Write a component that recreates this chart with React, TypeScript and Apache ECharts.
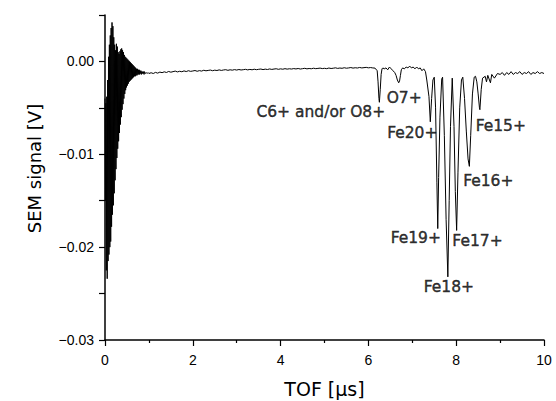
import React, { useEffect, useRef } from "react";
import * as echarts from "echarts";

// Ringing right after the trigger (TOF µs, SEM signal V)
const ringing: [number, number][] = [
  [0.00, -0.0040], [0.01, -0.0150], [0.02, -0.0045], [0.03, -0.0225], [0.04, -0.0038],
  [0.05, -0.0234], [0.06, -0.0020], [0.07, -0.0215], [0.08, 0.0005], [0.09, -0.0208],
  [0.10, 0.0018], [0.11, -0.0200], [0.12, 0.0028], [0.13, -0.0194], [0.14, 0.0036],
  [0.15, -0.0178], [0.16, 0.0042], [0.17, -0.0165], [0.18, 0.0038], [0.19, -0.0155],
  [0.20, 0.0026], [0.21, -0.0142], [0.22, 0.0018], [0.23, -0.0128], [0.24, 0.0012],
  [0.25, -0.0116], [0.26, 0.0019], [0.27, -0.0104], [0.28, 0.0016], [0.29, -0.0094],
  [0.30, 0.0010], [0.31, -0.0086], [0.32, 0.0008], [0.33, -0.0077], [0.34, 0.0011],
  [0.35, -0.0068], [0.36, 0.0013], [0.37, -0.0060], [0.38, 0.0014], [0.39, -0.0052],
  [0.40, 0.0012], [0.41, -0.0046], [0.42, 0.0010], [0.43, -0.0040], [0.44, 0.0007],
  [0.45, -0.0035], [0.46, 0.0005], [0.47, -0.0031], [0.48, 0.0004], [0.49, -0.0028],
  [0.50, 0.0003], [0.51, -0.0026], [0.52, 0.0002], [0.53, -0.0024], [0.54, 0.0001],
  [0.55, -0.0022], [0.56, 0.0000], [0.57, -0.0021], [0.58, -0.0001], [0.59, -0.0020],
  [0.60, -0.0002], [0.61, -0.0019], [0.62, -0.0003], [0.63, -0.0018], [0.64, -0.0004],
  [0.65, -0.0017], [0.66, -0.0005], [0.67, -0.0016], [0.68, -0.0006], [0.69, -0.0016],
  [0.70, -0.0007], [0.71, -0.0015], [0.72, -0.0008], [0.73, -0.0015], [0.74, -0.0008],
  [0.75, -0.0014], [0.76, -0.0009], [0.77, -0.0014], [0.78, -0.0009], [0.79, -0.0014],
  [0.80, -0.0010], [0.81, -0.0013], [0.82, -0.0010], [0.83, -0.0014], [0.84, -0.0011],
  [0.85, -0.0013], [0.86, -0.0011], [0.87, -0.0013], [0.88, -0.0011], [0.89, -0.0014],
  [0.90, -0.0011], [0.92, -0.0013], [0.94, -0.0012], [0.96, -0.0013], [0.98, -0.0012],
  [1.00, -0.0013],
];

// Quiet baseline
const baseline: [number, number][] = [
  [1.05, -0.00122], [1.10, -0.00130], [1.15, -0.00118], [1.20, -0.00126], [1.25, -0.00115],
  [1.30, -0.00121], [1.35, -0.00112], [1.40, -0.00119], [1.45, -0.00108], [1.50, -0.00116],
  [1.55, -0.00110], [1.60, -0.00104], [1.65, -0.00113], [1.70, -0.00106], [1.75, -0.00111],
  [1.80, -0.00102], [1.85, -0.00109], [1.90, -0.00100], [1.95, -0.00107], [2.00, -0.00103],
  [2.05, -0.00098], [2.10, -0.00106], [2.15, -0.00099], [2.20, -0.00104], [2.25, -0.00095],
  [2.30, -0.00101], [2.35, -0.00097], [2.40, -0.00093], [2.45, -0.00100], [2.50, -0.00094],
  [2.55, -0.00098], [2.60, -0.00091], [2.65, -0.00097], [2.70, -0.00092], [2.75, -0.00089],
  [2.80, -0.00096], [2.85, -0.00090], [2.90, -0.00094], [2.95, -0.00088], [3.00, -0.00093],
  [3.05, -0.00087], [3.10, -0.00092], [3.15, -0.00089], [3.20, -0.00085], [3.25, -0.00091],
  [3.30, -0.00086], [3.35, -0.00090], [3.40, -0.00084], [3.45, -0.00089], [3.50, -0.00085],
  [3.55, -0.00082], [3.60, -0.00088], [3.65, -0.00083], [3.70, -0.00087], [3.75, -0.00081],
  [3.80, -0.00086], [3.85, -0.00082], [3.90, -0.00079], [3.95, -0.00085], [4.00, -0.00080],
  [4.05, -0.00084], [4.10, -0.00078], [4.15, -0.00083], [4.20, -0.00079], [4.25, -0.00082],
  [4.30, -0.00077], [4.35, -0.00081], [4.40, -0.00076], [4.45, -0.00082], [4.50, -0.00078],
  [4.55, -0.00074], [4.60, -0.00080], [4.65, -0.00076], [4.70, -0.00079], [4.75, -0.00073],
  [4.80, -0.00078], [4.85, -0.00075], [4.90, -0.00072], [4.95, -0.00077], [5.00, -0.00074],
  [5.05, -0.00078], [5.10, -0.00071], [5.15, -0.00076], [5.20, -0.00073], [5.25, -0.00069],
  [5.30, -0.00075], [5.35, -0.00071], [5.40, -0.00074], [5.45, -0.00068], [5.50, -0.00073],
  [5.55, -0.00070], [5.60, -0.00066], [5.65, -0.00072], [5.70, -0.00068], [5.75, -0.00071],
  [5.80, -0.00065], [5.85, -0.00070], [5.90, -0.00067], [5.95, -0.00064], [6.00, -0.00069],
  [6.05, -0.00066], [6.10, -0.00070], [6.15, -0.00072],
];

// Ion peaks (C, O and Fe charge states)
const peaks: [number, number][] = [
  [6.20, -0.0010], [6.22, -0.0022], [6.24, -0.0040], [6.25, -0.0044], [6.27, -0.0030],
  [6.29, -0.0014], [6.31, -0.0008], [6.33, -0.0007], [6.36, -0.0008], [6.40, -0.0007],
  [6.44, -0.0009], [6.48, -0.0006], [6.52, -0.0008], [6.56, -0.0010], [6.60, -0.0012],
  [6.63, -0.0015], [6.66, -0.0020], [6.69, -0.0023], [6.71, -0.0021], [6.73, -0.0015],
  [6.75, -0.0009], [6.78, -0.0007], [6.82, -0.0008], [6.86, -0.0006], [6.90, -0.0007],
  [6.94, -0.0005], [6.98, -0.0007], [7.02, -0.0006], [7.06, -0.0008], [7.10, -0.0006],
  [7.14, -0.0008], [7.18, -0.0007], [7.22, -0.0010], [7.26, -0.0008], [7.30, -0.0011],
  [7.33, -0.0020], [7.38, -0.0038], [7.41, -0.0065], [7.44, -0.0040], [7.47, -0.0020],
  [7.50, -0.0017], [7.53, -0.0050], [7.56, -0.0130], [7.58, -0.0180], [7.60, -0.0125],
  [7.63, -0.0060], [7.67, -0.0019], [7.69, -0.0017], [7.73, -0.0080], [7.77, -0.0170],
  [7.81, -0.0232], [7.84, -0.0150], [7.87, -0.0070], [7.91, -0.0018], [7.95, -0.0070],
  [7.98, -0.0140], [8.01, -0.0182], [8.04, -0.0120], [8.08, -0.0050], [8.12, -0.0020],
  [8.15, -0.0017], [8.19, -0.0040], [8.23, -0.0075], [8.27, -0.0105], [8.30, -0.0113],
  [8.33, -0.0080], [8.37, -0.0035], [8.41, -0.0017], [8.44, -0.0016], [8.47, -0.0022],
  [8.50, -0.0035], [8.53, -0.0050], [8.54, -0.0052], [8.57, -0.0030], [8.60, -0.0018],
  [8.66, -0.0016], [8.69, -0.0022], [8.72, -0.0015], [8.78, -0.0023], [8.81, -0.0014],
  [8.87, -0.0018], [8.94, -0.0013],
];

// Tail after the Fe peaks
const tail: [number, number][] = [
  [9.00, -0.0014], [9.05, -0.0012], [9.10, -0.0015], [9.15, -0.0012], [9.20, -0.0014],
  [9.25, -0.0011], [9.30, -0.0014], [9.35, -0.0012], [9.40, -0.0013], [9.45, -0.0011],
  [9.50, -0.0014], [9.55, -0.0012], [9.60, -0.0013], [9.65, -0.0011], [9.70, -0.0014],
  [9.75, -0.0012], [9.80, -0.0013], [9.85, -0.0011], [9.90, -0.0013], [9.95, -0.0012],
  [10.00, -0.0013],
];

// Peak annotations (text centre in data coordinates)
const peakNames = ["C6+ and/or O8+", "O7+", "Fe20+", "Fe19+", "Fe18+", "Fe17+", "Fe16+", "Fe15+"];
const labelTof = [4.916, 6.815, 7.0, 7.08, 7.832, 8.485, 8.731, 9.016];
const labelSignal = [-0.0054, -0.00396, -0.00774, -0.01903, -0.02425, -0.01938, -0.01286, -0.00695];

const xTicks = { min: 0, max: 10, interval: 2 };
const yTicks = { min: -0.03, max: 0.005, interval: 0.005 };

export default function App() {
  const ref = useRef<HTMLDivElement>(null);
  useEffect(() => {
    if (!ref.current) return;
    const chart = echarts.init(ref.current, undefined, { renderer: "svg" });
    const trace = [...ringing, ...baseline, ...peaks, ...tail];
    const labels = peakNames.map((n, i) => ({ name: n, value: [labelTof[i], labelSignal[i]] }));
    const tickFont = { fontFamily: "Liberation Sans, Arial, sans-serif", fontSize: 14, color: "#000" };
    chart.setOption({
      animation: false,
      backgroundColor: "#fff",
      grid: { left: 105, right: 12, top: 15, bottom: 61, containLabel: false, outerBoundsMode: "none" },
      xAxis: {
        type: "value",
        min: xTicks.min,
        max: xTicks.max,
        interval: xTicks.interval,
        name: "TOF [μs]",
        nameLocation: "middle",
        nameGap: 39,
        nameTextStyle: { fontFamily: "DejaVu Sans", fontSize: 19, color: "#000" },
        axisLine: { onZero: false, lineStyle: { color: "#000", width: 1.5 } },
        axisTick: { show: true, inside: false, length: 6, lineStyle: { color: "#000", width: 1.2 } },
        minorTick: { show: true, splitNumber: 2, length: 3, lineStyle: { color: "#000", width: 1.2 } },
        splitLine: { show: false },
        axisLabel: { ...tickFont, margin: 13 },
      },
      yAxis: {
        type: "value",
        min: yTicks.min,
        max: yTicks.max,
        interval: yTicks.interval,
        name: "SEM signal [V]",
        nameLocation: "middle",
        nameGap: 62,
        nameTextStyle: { fontFamily: "DejaVu Sans", fontSize: 18, color: "#000", padding: [0, 0, 0, 18] },
        axisLine: { onZero: false, lineStyle: { color: "#000", width: 1.5 } },
        axisTick: { show: true, inside: false, length: 6, lineStyle: { color: "#000", width: 1.2 } },
        splitLine: { show: false },
        axisLabel: {
          ...tickFont,
          margin: 11,
          showMaxLabel: true,
          formatter: (v: number) => {
            const c = v * 100;
            if (Math.abs(c - Math.round(c)) > 1e-6) return "";
            const r = Math.round(c);
            if (r > 0) return "";
            if (r === 0) return "0.00";
            return "\u22120.0" + Math.abs(r);
          },
        },
      },
      series: [
        {
          type: "line",
          data: trace,
          showSymbol: false,
          symbol: "none",
          lineStyle: { color: "#000", width: 1 },
          silent: true,
        },
        {
          type: "scatter",
          data: labels,
          symbolSize: 1,
          itemStyle: { color: "rgba(0,0,0,0)" },
          silent: true,
          label: {
            show: true,
            position: "inside",
            formatter: "{b}",
            fontFamily: "DejaVu Sans",
            fontSize: 15.5,
            color: "#000",
            textBorderColor: "#000",
            textBorderWidth: 0.45,
          },
        },
      ],
    });
    return () => chart.dispose();
  }, []);
  return (
    <div
      ref={ref}
      style={{ position: "fixed", left: 0, top: 0, width: 556, height: 401, background: "#fff" }}
    />
  );
}
